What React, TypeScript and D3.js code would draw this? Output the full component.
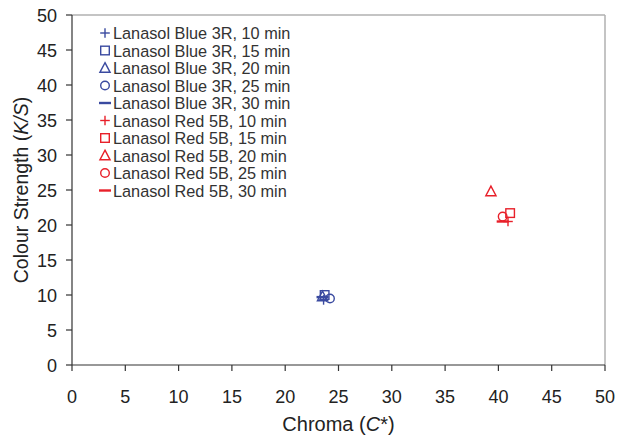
import React from "react";
import * as d3 from "d3";

const xTicks = [0, 5, 10, 15, 20, 25, 30, 35, 40, 45, 50];
const yTicks = [0, 5, 10, 15, 20, 25, 30, 35, 40, 45, 50];

const seriesNames = [
  "Lanasol Blue 3R, 10 min",
  "Lanasol Blue 3R, 15 min",
  "Lanasol Blue 3R, 20 min",
  "Lanasol Blue 3R, 25 min",
  "Lanasol Blue 3R, 30 min",
  "Lanasol Red 5B, 10 min",
  "Lanasol Red 5B, 15 min",
  "Lanasol Red 5B, 20 min",
  "Lanasol Red 5B, 25 min",
  "Lanasol Red 5B, 30 min",
];
const seriesShapes = ["plus", "square", "triangle", "circle", "dash", "plus", "square", "triangle", "circle", "dash"];
const seriesColors = ["#3a4aa0", "#3a4aa0", "#3a4aa0", "#3a4aa0", "#3a4aa0", "#e8202a", "#e8202a", "#e8202a", "#e8202a", "#e8202a"];
const chromaValues = [23.6, 23.7, 23.5, 24.2, 23.5, 40.9, 41.1, 39.3, 40.4, 40.4];
const strengthValues = [9.3, 10.0, 9.8, 9.5, 9.7, 20.5, 21.7, 24.8, 21.2, 20.5];

const W = 617, H = 438;
const left = 72, right = 605, top = 15, bottom = 365;

function Marker({ shape, x, y, color }: { shape: string; x: number; y: number; color: string }) {
  const s = 4.3;
  const sw = 1.4;
  if (shape === "plus")
    return (
      <g stroke={color} strokeWidth={sw} fill="none">
        <line x1={x - s - 0.5} x2={x + s + 0.5} y1={y} y2={y} />
        <line x1={x} x2={x} y1={y - s - 0.5} y2={y + s + 0.5} />
      </g>
    );
  if (shape === "square")
    return <rect x={x - s} y={y - s} width={2 * s} height={2 * s} stroke={color} strokeWidth={sw} fill="none" />;
  if (shape === "triangle")
    return (
      <path d={`M${x},${y - s - 1}L${x + s + 0.8},${y + s}L${x - s - 0.8},${y + s}Z`} stroke={color} strokeWidth={sw} fill="none" />
    );
  if (shape === "circle") return <circle cx={x} cy={y} r={s} stroke={color} strokeWidth={sw} fill="none" />;
  return <line x1={x - 6} x2={x + 6} y1={y} y2={y} stroke={color} strokeWidth={2.4} />;
}

export default function App() {
  const x = d3.scaleLinear().domain([0, 50]).range([left, right]);
  const y = d3.scaleLinear().domain([0, 50]).range([bottom, top]);
  const font = "'Liberation Sans', Arial, sans-serif";
  return (
    <svg width={W} height={H} style={{ position: "absolute", left: 0, top: 0, background: "#fff" }} fontFamily={font}>
      <line x1={left} x2={right} y1={top} y2={top} stroke="#b0b0b0" strokeWidth={1.5} />
      <line x1={right} x2={right} y1={top} y2={bottom} stroke="#b0b0b0" strokeWidth={1.5} />
      <line x1={left} x2={right} y1={bottom} y2={bottom} stroke="#333" strokeWidth={1.2} />
      <line x1={left} x2={left} y1={top} y2={bottom} stroke="#333" strokeWidth={1.2} />
      {xTicks.map((t) => (
        <g key={"x" + t}>
          <line x1={x(t)} x2={x(t)} y1={bottom} y2={bottom + 6} stroke="#333" strokeWidth={1.2} />
          <text x={x(t)} y={403} textAnchor="middle" fontSize={18} fill="#222">
            {t}
          </text>
        </g>
      ))}
      {yTicks.map((t) => (
        <g key={"y" + t}>
          <line x1={left - 6} x2={left} y1={y(t)} y2={y(t)} stroke="#333" strokeWidth={1.2} />
          <text x={57} y={y(t) + 6.5} textAnchor="end" fontSize={18} fill="#222">
            {t}
          </text>
        </g>
      ))}
      <text x={(left + right) / 2} y={431} textAnchor="middle" fontSize={20} fill="#222">
        Chroma (<tspan fontStyle="italic">C</tspan>*)
      </text>
      <text transform={`translate(28,${(top + bottom) / 2}) rotate(-90)`} textAnchor="middle" fontSize={19.5} fill="#222">
        Colour Strength (<tspan fontStyle="italic">K/S</tspan>)
      </text>
      {seriesNames.map((n, i) => (
        <Marker key={"m" + i} shape={seriesShapes[i]} x={x(chromaValues[i])} y={y(strengthValues[i])} color={seriesColors[i]} />
      ))}
      {seriesNames.map((n, i) => {
        const ly = 33 + i * 17.5;
        return (
          <g key={"l" + i}>
            <Marker shape={seriesShapes[i]} x={105} y={ly} color={seriesColors[i]} />
            <text x={113} y={ly + 6} fontSize={16.3} fill="#333">
              {n}
            </text>
          </g>
        );
      })}
    </svg>
  );
}
